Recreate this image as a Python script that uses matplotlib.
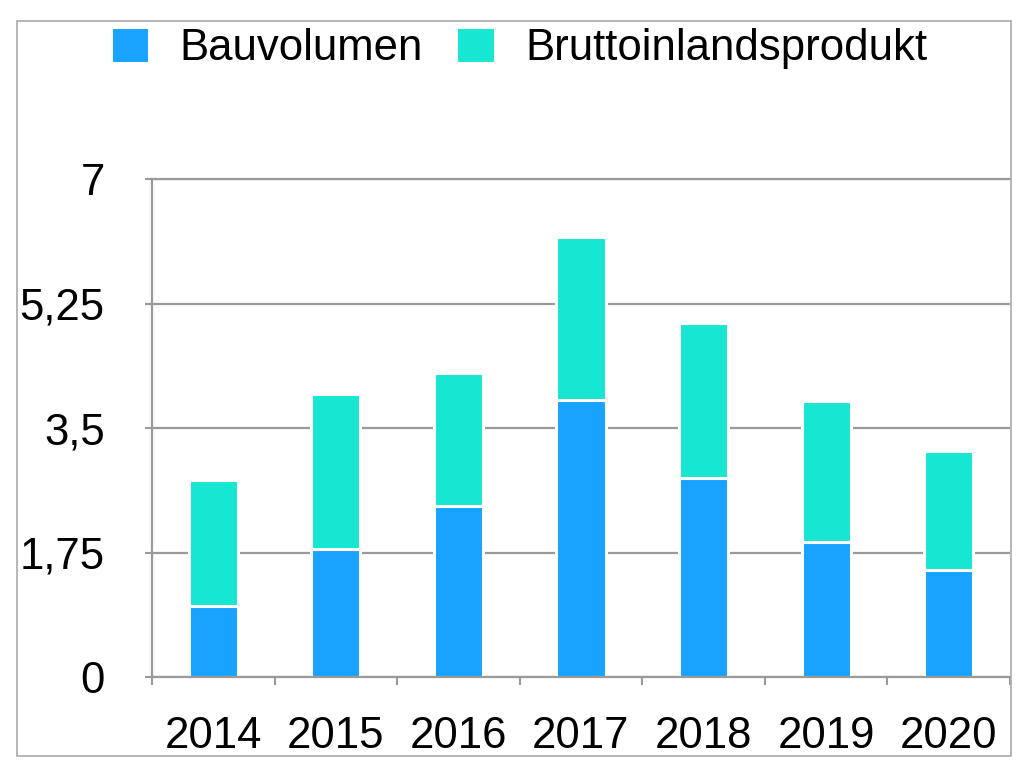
import numpy as np
import matplotlib
matplotlib.use("Agg")
import matplotlib.pyplot as plt
from matplotlib.patches import Rectangle
from matplotlib.ticker import FixedLocator, FuncFormatter

plt.rcParams['font.family'] = ['Liberation Sans', 'DejaVu Sans']

years = ['2014', '2015', '2016', '2017', '2018', '2019', '2020']
bauvolumen = [1.0, 1.8, 2.4, 3.9, 2.8, 1.9, 1.5]
bip = [1.77, 2.18, 1.88, 2.28, 2.17, 1.98, 1.68]
yticks = [0, 1.75, 3.5, 5.25, 7]

blue = '#17A3FE'
teal = '#17E7D2'
grey = '#9a9a9a'
fs = 31.5

fig = plt.figure(figsize=(10.24, 7.69), dpi=100)
ax = fig.add_axes([152/1024, 1 - 677/769, (1010 - 152)/1024, (677 - 179)/769])

# outer frame around the whole chart
fig.patches.append(Rectangle((17/1024, 1 - 756/769), 994/1024, 735/769,
                             transform=fig.transFigure, fill=False,
                             edgecolor='#aaaaaa', linewidth=1.2))

x = np.arange(len(years))
ax.bar(x, bauvolumen, width=0.4, color=blue, edgecolor='white',
       linewidth=2.2, label='Bauvolumen', zorder=3)
ax.bar(x, bip, width=0.4, bottom=bauvolumen, color=teal, edgecolor='white',
       linewidth=2.2, label='Bruttoinlandsprodukt', zorder=3)

ax.set_xlim(-0.5, len(years) - 0.5)
ax.set_ylim(0, 7)

ax.set_yticks(yticks)
ax.yaxis.set_major_formatter(FuncFormatter(lambda v, p: ('%g' % v).replace('.', ',')))
ax.tick_params(axis='y', length=5, width=1.5, color=grey, pad=29,
               labelsize=fs, labelcolor='black')
ax.yaxis.grid(True, color=grey, linewidth=1.6, zorder=0)

# ticks between categories, labels in the middle
ax.xaxis.set_major_locator(FixedLocator(np.arange(-0.5, len(years), 1)))
ax.xaxis.set_major_formatter(FuncFormatter(lambda v, p: ''))
ax.xaxis.set_minor_locator(FixedLocator(x))
ax.set_xticklabels(years, minor=True)
ax.tick_params(axis='x', which='major', length=6, width=1.5, color=grey)
ax.tick_params(axis='x', which='minor', length=0, pad=28, labelsize=fs,
               labelcolor='black')

for s in ['left', 'bottom', 'top']:
    ax.spines[s].set_color(grey)
    ax.spines[s].set_linewidth(1.6)
    ax.spines[s].set_zorder(4)
ax.spines['right'].set_visible(False)
ax.set_axisbelow(True)

fig.legend(loc='center', bbox_to_anchor=(519/1024, 1 - 48/769), ncol=2,
           frameon=False, fontsize=fs, handlelength=0.88, handleheight=0.88,
           handletextpad=0.7, columnspacing=0.75, borderaxespad=0)

fig.savefig('out.png', dpi=100, facecolor='white')
